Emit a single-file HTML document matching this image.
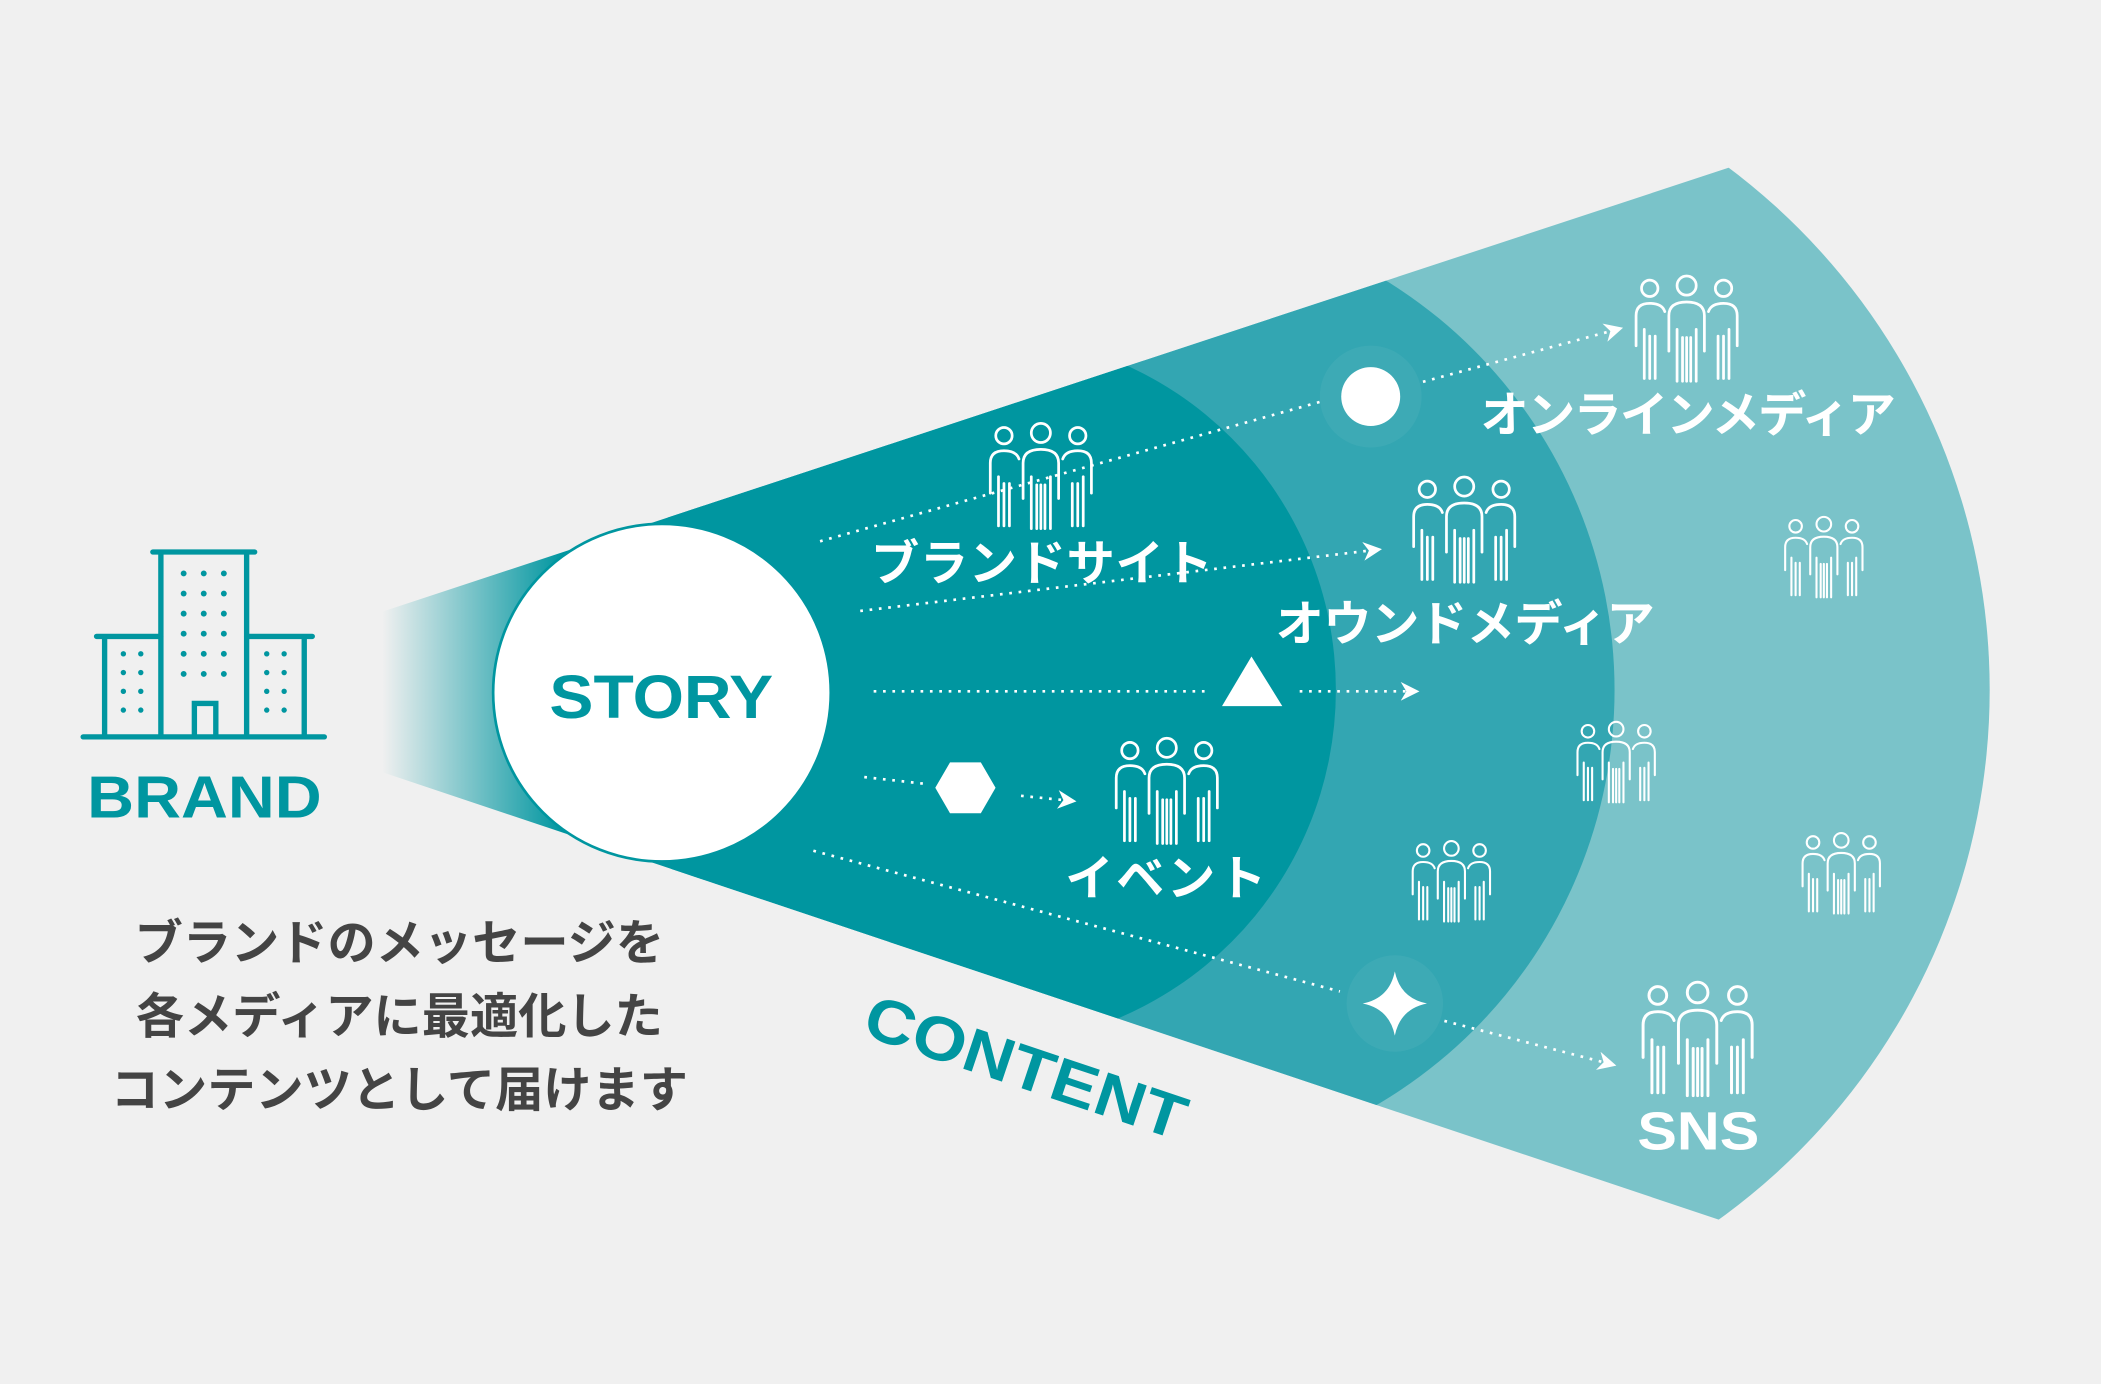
<!DOCTYPE html>
<html><head><meta charset="utf-8"><style>
html,body{margin:0;padding:0;background:#f0f0f0;}
svg{display:block;}
text{font-family:"Liberation Sans","Noto Sans CJK JP",sans-serif;font-weight:bold;}
</style></head><body>
<svg width="2101" height="1384" viewBox="0 0 1568 1033" xmlns="http://www.w3.org/2000/svg">
<defs>
<clipPath id="wedge"><polygon points="105,516 1700,-10 1700,1050"/></clipPath>
<linearGradient id="fade" x1="285" y1="0" x2="420" y2="0" gradientUnits="userSpaceOnUse">
<stop offset="0" stop-color="#0096a0" stop-opacity="0"/><stop offset="1" stop-color="#0096a0" stop-opacity="1"/></linearGradient>
<marker id="ar" viewBox="0 0 10 10" refX="9" refY="5" markerWidth="7" markerHeight="7" orient="auto"><path d="M0,0 L10,5 L0,10 L3,5 Z" fill="#fff"/></marker>
<g id="ppl" fill="none" stroke="#fff" stroke-width="2" stroke-linecap="round">
<circle cx="13" cy="10" r="6"/><circle cx="67" cy="10" r="6"/>
<path d="M3 52 V30 Q3 21 13 21 Q22 21 24 27"/><path d="M77 52 V30 Q77 21 67 21 Q58 21 56 27"/>
<path d="M9 40 V76 M13 45 V76 M17 45 V76"/><path d="M63 45 V76 M67 45 V76 M71 40 V76"/>
<circle cx="40" cy="8" r="7"/>
<path d="M27 56 V30 Q27 20 40 20 Q53 20 53 30 V56"/>
<path d="M33 40 V78 M37 46 V78 M40 46 V78 M43 46 V78 M47 40 V78"/>
</g>
</defs>
<rect width="1568" height="1033" fill="#f0f0f0"/>
<g clip-path="url(#wedge)">
<rect x="285" y="0" width="240" height="1033" fill="url(#fade)"/>
<circle cx="997.5" cy="515" r="487.5" fill="#7ac3c9"/>
<circle cx="846" cy="515" r="359" fill="#33a6b2"/>
<circle cx="731" cy="515" r="266" fill="#0096a0"/>
</g>
<circle cx="494" cy="517" r="126" fill="#fff" stroke="#0096a0" stroke-width="2"/>
<text x="410" y="536" font-size="46" fill="#0096a0" textLength="167" lengthAdjust="spacingAndGlyphs">STORY</text>
<!-- building -->
<g stroke="#0096a0" stroke-width="4" fill="none" stroke-linecap="round">
<path d="M62 550 H242"/>
<path d="M114 412 H190 M120 412 V550 M184 412 V550"/>
<path d="M72 475 H120 M78 475 V550 M184 475 H233 M227 475 V550"/>
<path d="M145 550 V525 H161 V550"/>
</g>
<g fill="#0096a0">
<g id="dots3"><circle cx="137" cy="428" r="2.2"/><circle cx="152" cy="428" r="2.2"/><circle cx="167" cy="428" r="2.2"/></g>
<use href="#dots3" y="15"/><use href="#dots3" y="30"/><use href="#dots3" y="45"/><use href="#dots3" y="60"/><use href="#dots3" y="75"/>
<g id="d2"><circle cx="92" cy="488" r="2"/><circle cx="105" cy="488" r="2"/><circle cx="199" cy="488" r="2"/><circle cx="212" cy="488" r="2"/></g>
<use href="#d2" y="14"/><use href="#d2" y="28"/><use href="#d2" y="42"/>
</g>
<text x="65" y="610" font-size="44" fill="#0096a0" textLength="175" lengthAdjust="spacingAndGlyphs">BRAND</text>
<g fill="#444" font-size="36" text-anchor="middle" style="font-weight:normal">
<text x="298" y="716">ブランドのメッセージを</text>
<text x="298" y="771">各メディアに最適化した</text>
<text x="298" y="826">コンテンツとして届けます</text>
</g>
<text transform="translate(642,772) rotate(18.5)" font-size="46" fill="#0096a0" textLength="250" lengthAdjust="spacingAndGlyphs">CONTENT</text>
<!-- dotted lines -->
<g stroke="#fff" stroke-width="2" stroke-dasharray="2 5" fill="none">
<path d="M612 404 L985 300"/>
<path d="M1062 285 L1210 245" marker-end="url(#ar)"/>
<path d="M642 456 L1030 410" marker-end="url(#ar)"/>
<path d="M652 516 H900"/>
<path d="M970 516 H1058" marker-end="url(#ar)"/>
<path d="M645 580 L690 585"/>
<path d="M762 594 L802 598" marker-end="url(#ar)"/>
<path d="M607 635 L1000 740"/>
<path d="M1078 762 L1205 795" marker-end="url(#ar)"/>
</g>
<!-- shapes -->
<circle cx="1023" cy="296" r="38" fill="#fff" opacity="0.05"/>
<circle cx="1023" cy="296" r="22" fill="#fff"/>
<polygon points="912,527 957,527 934,490" fill="#fff"/>
<polygon points="698,588 709,569 732,569 743,588 732,607 709,607" fill="#fff"/>
<circle cx="1041" cy="749" r="36" fill="#fff" opacity="0.05"/>
<path d="M1041 725 Q1045 745 1065 749 Q1045 753 1041 773 Q1037 753 1017 749 Q1037 745 1041 725 Z" fill="#fff"/>
<!-- people -->
<use href="#ppl" transform="translate(1218,205) scale(1.02)"/>
<use href="#ppl" transform="translate(736,315) scale(1.02)"/>
<use href="#ppl" transform="translate(1052,355) scale(1.02)"/>
<use href="#ppl" transform="translate(830,550) scale(1.02)"/>
<use href="#ppl" transform="translate(1223,732) scale(1.1)"/>
<use href="#ppl" transform="translate(1330,385) scale(0.78)"/>
<use href="#ppl" transform="translate(1175,538) scale(0.78)"/>
<use href="#ppl" transform="translate(1052,627) scale(0.78)"/>
<use href="#ppl" transform="translate(1343,621) scale(0.78)"/>
<!-- labels -->
<g fill="#fff" font-size="36">
<text x="1105" y="322" textLength="310">オンラインメディア</text>
<text x="650" y="433" textLength="255">ブランドサイト</text>
<text x="952" y="478" textLength="283">オウンドメディア</text>
<text x="795" y="668" textLength="150">イベント</text>
<text x="1222" y="858" font-size="40" textLength="91" lengthAdjust="spacingAndGlyphs">SNS</text>
</g>
</svg>
</body></html>
